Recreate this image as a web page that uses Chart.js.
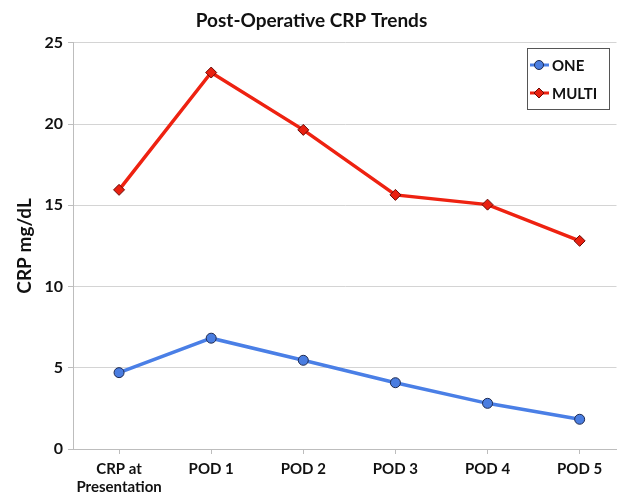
<!DOCTYPE html>
<html>
<head>
<meta charset="utf-8">
<script src="https://cdn.jsdelivr.net/npm/chart.js"></script>
<style>
  html, body { margin: 0; padding: 0; background: #fff; }
  #wrap { width: 623px; height: 501px; }
</style>
</head>
<body>
<div id="wrap"><canvas id="myChart" width="623" height="501"></canvas></div>
<script>
// values
const categories = [["CRP at", "Presentation"], "POD 1", "POD 2", "POD 3", "POD 4", "POD 5"];
const oneValues = [4.7, 6.82, 5.46, 4.08, 2.81, 1.83];
const multiValues = [15.95, 23.17, 19.64, 15.64, 15.04, 12.81];
const yTicks = [0, 5, 10, 15, 20, 25];

const fontName = "Lato, 'Open Sans', sans-serif";
const blue = "#4a7fe6";
const red = "#ee2211";

function toPoints(vals) {
  return vals.map((v, i) => ({ x: i, y: v }));
}

// legend box sits inside the plot, with a frame, like the original
const boxLegend = {
  id: "boxLegend",
  afterDraw(chart) {
    const ctx = chart.ctx;
    const x0 = 527, y0 = 48, w = 82, h = 61;
    ctx.save();
    ctx.fillStyle = "#fff";
    ctx.fillRect(x0, y0, w, h);
    ctx.strokeStyle = "#555";
    ctx.lineWidth = 1;
    ctx.strokeRect(x0 + 0.5, y0 + 0.5, w, h);
    chart.data.datasets.forEach((ds, i) => {
      const y = y0 + 17 + i * 28;
      ctx.strokeStyle = ds.borderColor;
      ctx.lineWidth = 3;
      ctx.beginPath();
      ctx.moveTo(x0 + 3, y);
      ctx.lineTo(x0 + 22, y);
      ctx.stroke();
      ctx.fillStyle = ds.pointBackgroundColor;
      ctx.strokeStyle = ds.pointBorderColor;
      ctx.lineWidth = 1;
      ctx.beginPath();
      if (ds.pointStyle === "rectRot") {
        ctx.moveTo(x0 + 12, y - 5);
        ctx.lineTo(x0 + 17, y);
        ctx.lineTo(x0 + 12, y + 5);
        ctx.lineTo(x0 + 7, y);
        ctx.closePath();
      } else {
        ctx.arc(x0 + 12, y, 4.5, 0, Math.PI * 2);
      }
      ctx.fill();
      ctx.stroke();
      ctx.fillStyle = "#111";
      ctx.font = "bold 15px " + fontName;
      ctx.textBaseline = "middle";
      ctx.textAlign = "left";
      ctx.fillText(ds.label, x0 + 25, y + 1);
    });
    ctx.restore();
  }
};

new Chart("myChart", {
  type: "line",
  data: {
    datasets: [{
      label: "ONE",
      data: toPoints(oneValues),
      borderColor: blue,
      borderWidth: 3.5,
      pointStyle: "circle",
      pointRadius: 5,
      pointBackgroundColor: "#4a7de0",
      pointBorderColor: "#1e2a50",
      pointBorderWidth: 1,
      tension: 0
    }, {
      label: "MULTI",
      data: toPoints(multiValues),
      borderColor: red,
      borderWidth: 3.5,
      pointStyle: "rectRot",
      pointRadius: 5.5,
      pointBackgroundColor: "#e82010",
      pointBorderColor: "#6a0a05",
      pointBorderWidth: 1,
      tension: 0
    }]
  },
  options: {
    responsive: false,
    animation: false,
    layout: { padding: { left: 0, right: 0, top: 0, bottom: 0 } },
    plugins: {
      legend: { display: false },
      tooltip: { enabled: false },
      title: {
        display: true,
        text: "Post-Operative CRP Trends",
        color: "#111",
        font: { family: fontName, size: 19, weight: "bold" },
        padding: { top: 9, bottom: 11 }
      }
    },
    scales: {
      x: {
        type: "linear",
        min: -0.5,
        max: 5.40,
        afterFit(scale) { scale.height = 52; },
        afterBuildTicks(scale) {
          scale.ticks = categories.map((c, i) => ({ value: i }));
        },
        grid: {
          drawOnChartArea: false,
          drawTicks: true,
          tickLength: 5,
          color: "#bdbdbd"
        },
        border: { color: "#bdbdbd", width: 1 },
        ticks: {
          color: "#111",
          font: { family: fontName, size: 15, weight: "bold" },
          padding: 6,
          maxRotation: 0,
          autoSkip: false,
          callback: (v) => categories[v]
        }
      },
      y: {
        min: 0,
        max: 25,
        afterFit(scale) { scale.width = 73; },
        afterBuildTicks(scale) {
          scale.ticks = yTicks.map(v => ({ value: v }));
        },
        grid: {
          color: "#d4d4d4",
          tickLength: 5,
          tickColor: "#bdbdbd"
        },
        border: { color: "#bdbdbd", width: 1 },
        ticks: {
          color: "#111",
          font: { family: fontName, size: 16, weight: "bold" },
          padding: 5
        },
        title: {
          display: true,
          text: "CRP mg/dL",
          color: "#111",
          font: { family: fontName, size: 19, weight: "bold" },
          padding: { top: 13, bottom: 0 }
        }
      }
    }
  },
  plugins: [boxLegend]
});
</script>
</body>
</html>
